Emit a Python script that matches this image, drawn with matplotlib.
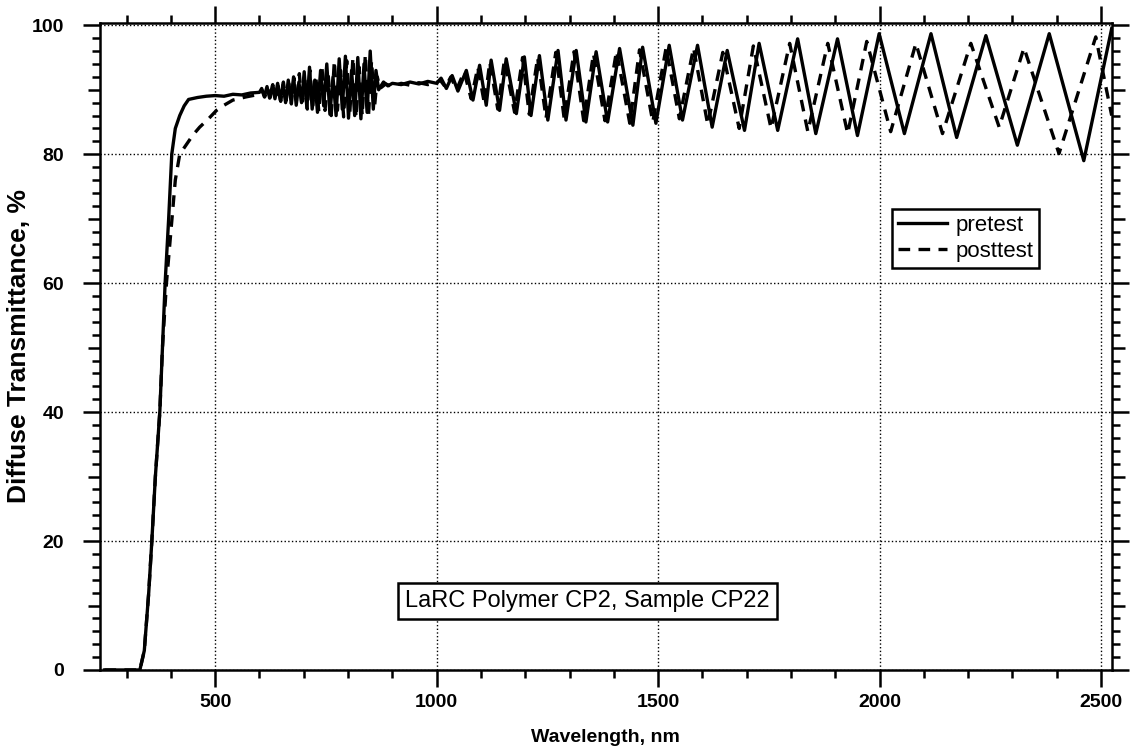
import numpy as np
import matplotlib
matplotlib.use("Agg")
import matplotlib.pyplot as plt
from matplotlib.ticker import MultipleLocator, FixedLocator

plt.rcParams['font.family'] = ['Liberation Sans', 'DejaVu Sans']

# ---------- data (wavelength nm, transmittance %) ----------
pre_wl = np.array([
    250, 300, 330, 340, 350, 357, 365, 375, 381, 387, 395, 402, 410, 420, 430, 440,
    460, 480, 500, 520, 540, 560, 580, 600,
    605, 611, 617, 623, 629, 635, 641, 647, 653, 659, 665, 671, 677, 683, 689, 695,
    701, 707, 713, 719, 725, 731, 738, 745, 752, 759, 766, 773, 780, 787, 794, 801,
    808, 815, 822, 829, 836, 843, 850, 857, 863, 869, 880, 890, 900, 920, 940, 960,
    980, 1000, 1010, 1022, 1035, 1048,
    1067, 1082, 1097, 1112, 1123, 1142, 1157, 1180, 1198, 1213, 1232, 1251, 1274, 1292,
    1315, 1337, 1360, 1386, 1413, 1443, 1465, 1495, 1525, 1555, 1589, 1622, 1656, 1695,
    1728, 1770, 1815, 1856, 1905, 1950, 1999, 2056, 2116, 2174, 2240, 2311, 2383, 2461,
    2524])
pre_t = np.array([
    0, 0, 0, 3, 12, 20, 30, 40, 50, 60, 70, 80, 84, 86, 87.5, 88.5,
    88.8, 89.0, 89.1, 89.0, 89.3, 89.2, 89.5, 89.6,
    90.2, 88.9, 90.5, 88.7, 90.6, 88.6, 91.0, 88.4, 90.8, 88.0, 91.5, 88.3, 92.0, 87.6, 91.2, 88.0,
    92.8, 87.2, 93.5, 87.0, 91.5, 86.5, 93.0, 87.5, 94.0, 86.2, 92.0, 86.0, 94.8, 87.0, 95.2, 85.6,
    93.0, 86.0, 95.0, 85.5, 94.0, 86.5, 96.0, 87.0, 93.0, 90.0, 91.2, 90.6, 91.0, 90.8, 91.2, 90.9,
    91.3, 91.0, 91.8, 90.2, 92.2, 89.8,
    93.0, 88.4, 93.8, 87.6, 94.6, 86.8, 94.8, 86.3, 95.1, 86.0, 95.3, 85.3, 96.1, 85.3,
    96.1, 85.0, 95.9, 85.0, 96.4, 84.5, 96.6, 84.8, 96.9, 85.3, 96.9, 84.2, 96.1, 83.7,
    97.2, 83.7, 97.9, 83.2, 97.9, 82.9, 98.7, 83.2, 98.7, 82.6, 98.4, 81.4, 98.7, 79.0,
    99.5])

post_wl = np.array([
    250, 300, 330, 340, 350, 357, 365, 375, 381, 390, 400, 410, 420, 435, 450, 465,
    485, 503, 520, 540, 570, 600,
    606, 612, 618, 624, 630, 636, 642, 648, 654, 660, 666, 672, 678, 684, 690, 696,
    702, 708, 714, 720, 727, 734, 741, 748, 755, 762, 769, 776, 783, 790, 797, 804,
    811, 818, 825, 832, 839, 846, 853, 860, 866, 872, 885, 900, 920, 940, 960, 980,
    1000, 1008, 1020, 1032, 1045,
    1062, 1078, 1093, 1108, 1120, 1138, 1153, 1176, 1194, 1209, 1228, 1247, 1269, 1288,
    1310, 1332, 1354, 1380, 1406, 1436, 1458, 1488, 1518, 1548, 1580, 1612, 1646, 1683,
    1715, 1755, 1797, 1838, 1883, 1928, 1971, 2025, 2082, 2142, 2206, 2270, 2326, 2405,
    2488, 2524])
post_t = np.array([
    0, 0, 0, 3, 12, 20, 30, 40, 50, 60, 68, 76, 80, 81.5, 83.0, 84.2,
    85.5, 86.8, 87.6, 88.4, 88.9, 89.3,
    89.9, 88.9, 90.3, 88.8, 90.8, 88.5, 90.6, 88.2, 91.2, 88.3, 91.0, 87.8, 91.8, 88.0, 92.5, 87.4,
    91.5, 87.0, 93.0, 87.5, 92.2, 86.6, 93.6, 86.8, 92.5, 86.0, 94.5, 86.8, 93.0, 85.8, 94.5, 86.5,
    95.0, 85.7, 93.5, 86.0, 95.5, 85.8, 94.5, 87.5, 92.0, 90.2, 90.9, 90.5, 91.0, 90.7, 91.1, 90.8,
    91.1, 91.5, 90.4, 92.0, 90.0,
    92.8, 88.6, 93.5, 87.8, 94.3, 87.0, 94.6, 86.5, 95.0, 86.2, 95.0, 85.6, 95.8, 85.5,
    95.9, 85.2, 95.6, 85.2, 96.0, 84.8, 96.2, 85.0, 96.5, 85.5, 96.5, 84.6, 95.8, 84.0,
    96.8, 84.0, 97.2, 83.5, 97.2, 83.2, 97.5, 83.5, 97.2, 83.2, 97.2, 84.2, 96.5, 80.1,
    98.2, 86.0])

x_major = [500, 1000, 1500, 2000, 2500]
y_major = [0, 20, 40, 60, 80, 100]
note = "LaRC Polymer CP2, Sample CP22"

# ---------- figure ----------
fig = plt.figure(figsize=(11.3, 7.5), dpi=100)
ax = fig.add_axes([0.0885, 0.1067, 0.8953, 0.863])

ax.plot(post_wl, post_t, color="black", lw=2.4, ls=(0, (3.5, 2.5)), label="posttest")
ax.plot(pre_wl, pre_t, color="black", lw=2.4, label="pretest")

ax.set_xlim(240, 2524)
ax.set_ylim(0, 100.4)
ax.xaxis.set_major_locator(FixedLocator(x_major))
ax.xaxis.set_minor_locator(MultipleLocator(100))
ax.yaxis.set_major_locator(FixedLocator(y_major))
ax.yaxis.set_minor_locator(MultipleLocator(2))

for s in ax.spines.values():
    s.set_linewidth(1.8)
ax.tick_params(which="both", direction="out", top=True, right=True, width=1.8)
ax.tick_params(which="major", length=12, labelsize=14)
ax.tick_params(which="minor", length=6)
ax.tick_params(axis="x", which="major", pad=5)
ax.tick_params(axis="y", which="major", pad=14)
for lab in ax.get_xticklabels() + ax.get_yticklabels():
    lab.set_fontweight("bold")

# longer minor ticks at the odd tens on the y axis
ylocs = ax.yaxis.get_minorticklocs()
for tk, loc in zip(ax.yaxis.get_minor_ticks(len(ylocs)), ylocs):
    if abs(loc % 10) < 1e-6:
        tk.tick1line.set_markersize(9)
        tk.tick2line.set_markersize(9)

ax.grid(True, which="major", color="black", ls=":", lw=1.0)

ax.set_xlabel("Wavelength, nm", fontsize=14, fontweight="bold", labelpad=13)
ax.set_ylabel("Diffuse Transmittance, %", fontsize=19, fontweight="bold")
ax.yaxis.set_label_coords(-0.068, 0.5)

h, l = ax.get_legend_handles_labels()
leg = ax.legend(h[::-1], l[::-1], loc="upper left", bbox_to_anchor=(0.783, 0.712),
                fontsize=16, frameon=True, fancybox=False, handlelength=2.2,
                borderpad=0.25, labelspacing=0.25, handletextpad=0.4, borderaxespad=0)
leg.get_frame().set_edgecolor("black")
leg.get_frame().set_linewidth(1.8)
leg.get_frame().set_alpha(1)

ax.text(0.482, 0.106, note, transform=ax.transAxes, ha="center", va="center",
        fontsize=17, bbox=dict(boxstyle="square,pad=0.3", fc="white", ec="black", lw=1.8))

fig.savefig("out.png", dpi=100)
